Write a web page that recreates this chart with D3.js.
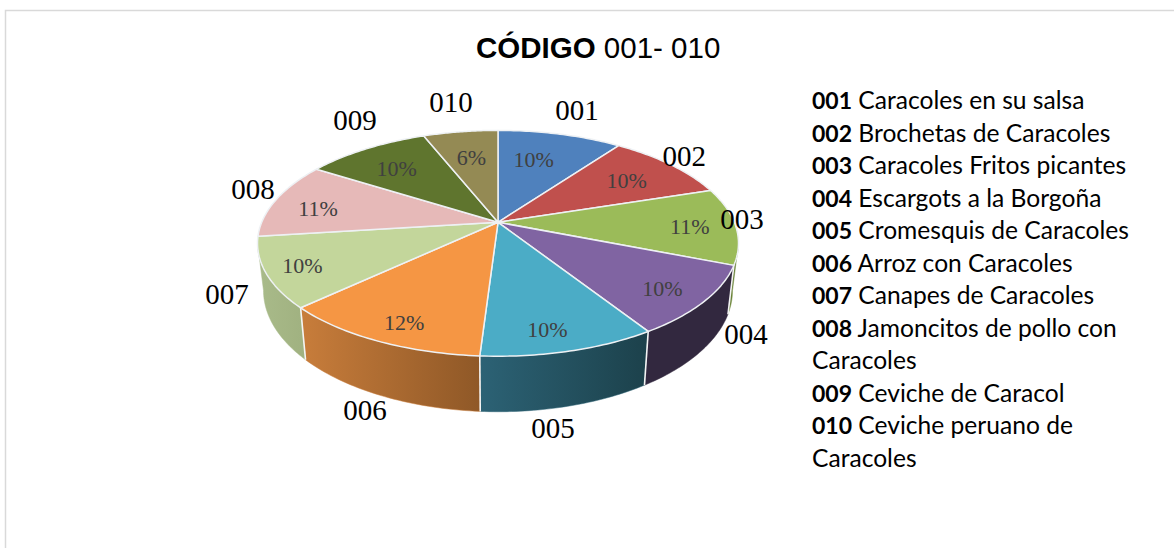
<!DOCTYPE html>
<html><head><meta charset="utf-8"><script src="https://cdn.jsdelivr.net/npm/d3@7"></script>
<style>html,body{margin:0;padding:0;background:#fff}svg{display:block}</style></head>
<body><svg id="c" width="1174" height="548"></svg>
<script>
const codes=["001","002","003","004","005","006","007","008","009","010"];
const shares=[10,10,11,10,10,12,10,11,10,6];
const names=["Caracoles en su salsa","Brochetas de Caracoles","Caracoles Fritos picantes","Escargots a la Borgoña","Cromesquis de Caracoles","Arroz con Caracoles","Canapes de Caracoles","Jamoncitos de pollo con|Caracoles","Ceviche de Caracol","Ceviche peruano de|Caracoles"];
const topColors=["#4f81bd","#c0504d","#9bbb59","#8064a2","#4bacc6","#f59644","#c3d69b","#e6b9b8","#5f752e","#948a54"];
const wallFrom=["#3b608e","#903c3a","#6f8a3a","#32283f","#2c6275","#c87d3b","#a9bb8a","#ac8a8a","#47581f","#6f673f"];
const wallTo=["#3b608e","#903c3a","#5c7030","#32283f","#1c414b","#8f5827","#a0b180","#ac8a8a","#47581f","#6f673f"];
// offsets of the outer labels from the projected rim, and of the percentages from their radial anchor
const outerNudge=[[17,-24],[14,-8.5],[6.4,-6.7],[41.5,33],[-16.7,77],[-12,70],[-38.8,21.3],[-23.4,-10.4],[-11.3,-28.8],[-9.5,-29.8]];
const innerR=[.72,.72,.80,.72,.60,.50,.80,.76,.76,.70];
const innerNudge=[[-11,4],[1,1],[2,2],[21,12],[10,36],[-39,47],[-13,4],[-10,4],[2,4],[1,2]];

const svg=d3.select("#c");
const cx=498,cy=222.3,f=236.3,g=109,k=.186;
const fb=230.4,gb=117,cyb=268,kb=.186;
const project=(t,r=1)=>{const s=Math.sin(t)*r,c=Math.cos(t)*r,w=1+k*c;return [cx+f*s/w,cy-g*c/w];};
const projectB=t=>{const s=Math.sin(t),c=Math.cos(t),w=1+kb*c;return [cx+fb*s/w,cyb-gb*c/w];};
const pie=d3.pie().sort(null).value(d=>d)(shares);
const line=d3.line();
const samples=(a,b)=>d3.range(0,41).map(i=>a+(b-a)*i/40);
const tMin=Math.acos(-k),tMax=2*Math.PI-tMin;

// frame
svg.append("path").attr("d","M5.5 548V10.5H1174").attr("fill","none").attr("stroke","#d9d9d9").attr("stroke-width",1.5);

// walls
const defs=svg.append("defs");
pie.forEach((p,i)=>{
  const a=Math.max(p.startAngle,tMin),b=Math.min(p.endAngle,tMax);
  if(a>=b)return;
  const gr=defs.append("linearGradient").attr("id","w"+i);
  gr.append("stop").attr("offset",0).attr("stop-color",wallFrom[i]);
  gr.append("stop").attr("offset",1).attr("stop-color",wallTo[i]);
  const ts=samples(a,b);
  const pts=ts.map(t=>project(t)).concat(ts.slice().reverse().map(projectB));
  svg.append("path").attr("d",line(pts)+"Z").attr("fill",`url(#w${i})`).attr("stroke",wallFrom[i]).attr("stroke-width",.5);
});
// seams between walls
pie.forEach(p=>{
  const t=p.endAngle;
  if(t>tMin&&t<tMax) svg.append("path").attr("d",line([project(t),projectB(t)])).attr("stroke","#f4f4f4").attr("stroke-width",1.6).attr("fill","none");
});
// tops
svg.append("g").selectAll("path").data(pie).join("path")
  .attr("d",p=>line([[cx,cy],...samples(p.startAngle,p.endAngle).map(t=>project(t))])+"Z")
  .attr("fill",(p,i)=>topColors[i]).attr("stroke","#eef1f4").attr("stroke-width",1.5).attr("stroke-linejoin","round");
// percentages
svg.append("g").selectAll("text").data(pie).join("text")
  .attr("x",(p,i)=>project((p.startAngle+p.endAngle)/2,innerR[i])[0]+innerNudge[i][0])
  .attr("y",(p,i)=>project((p.startAngle+p.endAngle)/2,innerR[i])[1]+innerNudge[i][1])
  .attr("dy","0.33em").attr("text-anchor","middle")
  .attr("font-family","Liberation Serif").attr("font-size",22).attr("fill","#404040")
  .text(p=>p.data+"%");
// outer labels
svg.append("g").selectAll("text").data(pie).join("text")
  .attr("x",(p,i)=>project((p.startAngle+p.endAngle)/2)[0]+outerNudge[i][0])
  .attr("y",(p,i)=>project((p.startAngle+p.endAngle)/2)[1]+outerNudge[i][1])
  .attr("dy","0.33em").attr("text-anchor","middle")
  .attr("font-family","Liberation Serif").attr("font-size",29).attr("fill","#000")
  .text((p,i)=>codes[i]);
// title
const title=svg.append("text").attr("x",476).attr("y",58).attr("font-family","Liberation Sans").attr("font-size",29.5).attr("fill","#000");
title.append("tspan").attr("font-weight","bold").text("CÓDIGO");
title.append("tspan").text(" 001- 010");
// legend
const lines=[];
codes.forEach((c,i)=>{names[i].split("|").forEach((n,j)=>lines.push(j?{name:n}:{code:c,name:n}));});
const lg=svg.append("g").attr("font-family","Lato").attr("font-size",24.6).attr("fill","#000");
lines.forEach((l,i)=>{
  const t=lg.append("text").attr("x",812).attr("y",109+i*32.5);
  if(l.code){t.append("tspan").attr("font-weight","bold").attr("font-size",23).text(l.code);t.append("tspan").text(" "+l.name);} else t.text(l.name);
});
</script></body></html>
